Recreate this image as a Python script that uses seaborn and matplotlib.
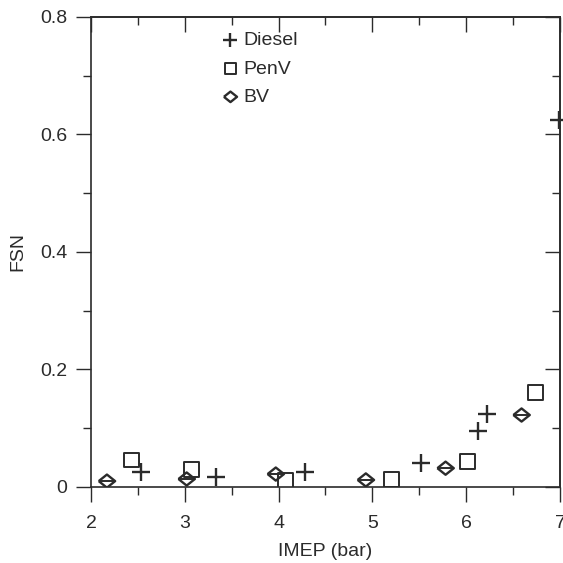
import numpy as np
import pandas as pd
import matplotlib
matplotlib.use("Agg")
import matplotlib.pyplot as plt
import seaborn as sns
from matplotlib.ticker import MultipleLocator

sns.set_theme(style="white")
plt.rcParams['font.family'] = ['Liberation Sans', 'DejaVu Sans']

# Data
diesel_x = [2.535, 3.33, 4.28, 5.52, 6.13, 6.22, 6.99]
diesel_y = [0.026, 0.0165, 0.026, 0.040, 0.095, 0.125, 0.624]
penv_x = [2.43, 3.07, 4.07, 5.20, 6.01, 6.74]
penv_y = [0.046, 0.030, 0.011, 0.012, 0.044, 0.161]
bv_x = [2.17, 3.02, 3.97, 4.93, 5.78, 6.59]
bv_y = [0.010, 0.0136, 0.022, 0.012, 0.032, 0.1225]

x_ticks = [2, 3, 4, 5, 6, 7]
y_ticks = [0, 0.2, 0.4, 0.6, 0.8]
y_tick_labels = ["0", "0.2", "0.4", "0.6", "0.8"]

dark = "#2b2b2b"
fs = 14

fig = plt.figure(figsize=(5.63, 5.63), dpi=100)
ax = fig.add_axes([0.1616, 0.135, 0.8331, 0.835])

diamond = [(-1, 0), (0, 0.8), (1, 0), (0, -0.8), (-1, 0)]

sns.scatterplot(x=diesel_x, y=diesel_y, marker='+', s=150, color=dark,
                linewidth=1.7, ax=ax, label='Diesel', clip_on=False, zorder=5)
sns.scatterplot(x=penv_x, y=penv_y, marker='s', s=115, facecolor='none',
                edgecolor=dark, linewidth=1.4, ax=ax, label='PenV', zorder=5)
sns.scatterplot(x=bv_x, y=bv_y, marker=diamond, s=140, facecolor='none',
                edgecolor=dark, linewidth=1.7, ax=ax, label='BV', zorder=5)
sns.scatterplot(x=bv_x, y=bv_y, marker='_', s=140, color=dark,
                linewidth=1.4, ax=ax, legend=False, zorder=5)

ax.set_xlim(2, 7)
ax.set_ylim(0, 0.8)
ax.set_xticks(x_ticks)
ax.set_xticklabels([str(t) for t in x_ticks])
ax.set_yticks(y_ticks)
ax.set_yticklabels(y_tick_labels)
ax.xaxis.set_minor_locator(MultipleLocator(0.5))
ax.yaxis.set_minor_locator(MultipleLocator(0.1))
ax.tick_params(which='major', direction='out', length=11, width=1.0,
               color=dark, labelsize=fs, labelcolor=dark, pad=6,
               bottom=True, left=True)
ax.tick_params(axis='x', which='major', pad=9)
ax.tick_params(which='minor', direction='out', length=5.5, width=1.0,
               color=dark, bottom=True, left=True)

for s in ax.spines.values():
    s.set_color(dark)
    s.set_linewidth(1.2)

# inward ticks on top and right
top = ax.secondary_xaxis('top')
top.set_xticks(x_ticks)
top.xaxis.set_minor_locator(MultipleLocator(0.5))
top.tick_params(which='major', direction='in', length=11, width=1.0, color=dark, labeltop=False)
top.tick_params(which='minor', direction='in', length=5.5, width=1.0, color=dark)
top.spines['top'].set_color(dark)
top.spines['top'].set_linewidth(1.2)
right = ax.secondary_yaxis('right')
right.set_yticks(y_ticks)
right.yaxis.set_minor_locator(MultipleLocator(0.1))
right.tick_params(which='major', direction='in', length=11, width=1.0, color=dark, labelright=False)
right.tick_params(which='minor', direction='in', length=5.5, width=1.0, color=dark)
right.spines['right'].set_color(dark)
right.spines['right'].set_linewidth(1.2)

ax.set_xlabel('IMEP (bar)', fontsize=fs, color=dark, labelpad=8)
ax.set_ylabel('FSN', fontsize=fs, color=dark, labelpad=10)

leg = ax.legend(loc='upper left', bbox_to_anchor=(0.258, 0.985), frameon=False,
                fontsize=fs, handletextpad=0.1, labelspacing=0.55,
                borderaxespad=0, handlelength=1.1, markerscale=0.8)
for t in leg.get_texts():
    t.set_color(dark)

fig.savefig('out.png', dpi=100)
